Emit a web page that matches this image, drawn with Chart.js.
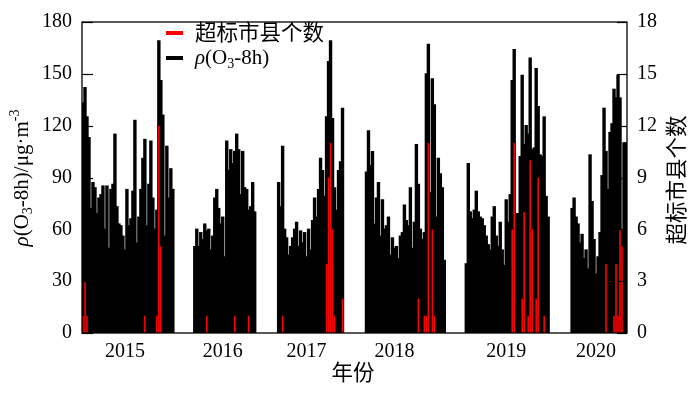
<!DOCTYPE html>
<html><head><meta charset="utf-8">
<script src="https://cdn.jsdelivr.net/npm/chart.js@4"></script>
<style>html,body{margin:0;padding:0;background:#fff;}</style>
</head><body>
<canvas id="c" width="700" height="393"></canvas>
<script>
const yearLabels = ['2015','2016','2017','2018','2019','2020'];
const yearTickIdx = [21, 70, 112, 156, 212, 257];
const o3_2015 = [133,142,125,113,72,87,84,69,78,80,85,60,85,49,83,86,115,73,63,62,56,48,83,62,66,82,123,52,67,83,101,112,62,86,111,78,60,71,169,146,126,56,108,78,95,83];
const o3_2016 = [50,60,50,58,54,63,59,60,48,56,78,83,72,63,67,44,111,94,106,98,105,115,106,80,105,84,83,71,73,87,70];
const o3_2017 = [87,73,108,60,55,45,50,55,60,64,50,59,52,58,44,60,48,65,78,67,83,101,94,79,125,157,169,124,84,71,94,99,130];
const o3_2018 = [93,117,97,105,63,78,87,56,77,60,62,67,45,55,49,50,43,56,58,74,65,62,84,49,64,109,86,60,54,58,150,167,81,147,132,67,101,92,84,42];
const o3_2019 = [40,98,70,66,71,82,70,67,66,62,56,51,48,67,73,56,50,64,48,39,77,64,80,146,164,69,69,102,149,109,120,115,159,106,107,153,131,103,102,125,79,67];
const o3_2020 = [72,78,67,63,52,57,43,48,37,103,76,54,34,44,58,91,130,105,83,116,121,141,136,149,136,59,110,110];
const gapDays = [10, 11, 11, 10, 11];
const exceedDay   = [0,1,2,31,37,38,39, 62,76,83, 100,122,123,124,125,126,130, 168,171,172,173,175,176, 215,216,220,221,223,224,225,227,228,231, 262,266,267,268,269,270];
const exceedCount = [1,3,1,1,1,12,5, 1,1,1, 1,4,9,11,6,1,2, 2,1,1,11,6,1, 6,11,2,7,1,10,6,2,9,1, 4,1,4,1,6,5];

// ---- build series ----
const o3 = [];
[o3_2015,o3_2016,o3_2017,o3_2018,o3_2019,o3_2020].forEach((s,k)=>{
  s.forEach(v=>o3.push(v));
  if (k < gapDays.length) for (let j=0;j<gapDays[k];j++) o3.push(null);
});
const labels = o3.map((_,i)=>i);
const exceed = o3.map(()=>null);
exceedDay.forEach((d,k)=>{ exceed[d] = exceedCount[k]; });

const SERIF = '"Liberation Serif", "Times New Roman", serif';
const CJK = '"Liberation Serif", "Noto Sans CJK SC", serif';

function drawRich(ctx, x, y, parts){
  let cx = x;
  parts.forEach(p=>{
    ctx.font = p.f;
    ctx.fillText(p.t, cx, y + (p.dy||0));
    cx += ctx.measureText(p.t).width;
  });
  return cx - x;
}
function richWidth(ctx, parts){
  let w=0; parts.forEach(p=>{ctx.font=p.f; w+=ctx.measureText(p.t).width;}); return w;
}

const deco = {
  id:'deco',
  afterDatasetsDraw(chart){
    const {ctx, chartArea:a, scales} = chart;
    ctx.save();
    ctx.strokeStyle = '#000'; ctx.lineWidth = 1.3;
    ctx.strokeRect(a.left, a.top, a.right-a.left, a.bottom-a.top);
    ctx.lineWidth = 1.2;
    scales.y.ticks.forEach(t=>{
      const y = Math.round(scales.y.getPixelForValue(t.value))+0.5;
      ctx.beginPath(); ctx.moveTo(a.left,y); ctx.lineTo(a.left+11,y); ctx.stroke();
    });
    scales.y1.ticks.forEach(t=>{
      const y = Math.round(scales.y1.getPixelForValue(t.value))+0.5;
      ctx.beginPath(); ctx.moveTo(a.right,y); ctx.lineTo(a.right-10,y); ctx.stroke();
    });
    // legend
    ctx.fillStyle = '#000';
    ctx.lineWidth = 4;
    ctx.strokeStyle = '#ff0000';
    ctx.beginPath(); ctx.moveTo(166,33); ctx.lineTo(183,33); ctx.stroke();
    ctx.strokeStyle = '#000';
    ctx.beginPath(); ctx.moveTo(166,58); ctx.lineTo(183,58); ctx.stroke();
    ctx.textBaseline = 'middle'; ctx.textAlign = 'left';
    ctx.font = '21.5px ' + CJK;
    ctx.fillText('超标市县个数', 195, 34);
    ctx.textBaseline = 'alphabetic';
    drawRich(ctx, 195, 64, [
      {t:'ρ', f:'italic 21px '+SERIF},
      {t:'(O', f:'21px '+SERIF},
      {t:'3', f:'14px '+SERIF, dy:4},
      {t:'-8h)', f:'21px '+SERIF}
    ]);
    // left axis title (rotated)
    const lparts = [
      {t:'ρ', f:'italic 21px '+SERIF},
      {t:'(O', f:'21px '+SERIF},
      {t:'3', f:'14px '+SERIF, dy:4},
      {t:'-8h)/μg·m', f:'21px '+SERIF},
      {t:'-3', f:'14px '+SERIF, dy:-9}
    ];
    ctx.save();
    ctx.translate(28, 178);
    ctx.rotate(-Math.PI/2);
    const lw = richWidth(ctx, lparts);
    drawRich(ctx, -lw/2, 0, lparts);
    ctx.restore();
    // right axis title
    ctx.save();
    ctx.translate(678, 180);
    ctx.rotate(-Math.PI/2);
    ctx.textAlign = 'center'; ctx.textBaseline = 'middle';
    ctx.font = '21.5px ' + CJK;
    ctx.fillText('超标市县个数', 0, 0);
    ctx.restore();
    // x axis title
    ctx.textAlign = 'center'; ctx.textBaseline = 'middle';
    ctx.font = '21.5px ' + CJK;
    ctx.fillText('年份', 353, 374);
    ctx.restore();
  }
};

const tickFont = {family: SERIF, size: 20};
new Chart(document.getElementById('c').getContext('2d'), {
  type: 'bar',
  data: {
    labels,
    datasets: [
      {label:'超标市县个数', data:exceed, yAxisID:'y1', backgroundColor:'#ff0000', order:0, grouped:false,
       barPercentage:0.8, categoryPercentage:1, borderWidth:0, inflateAmount:0},
      {label:'ρ(O3-8h)', data:o3, yAxisID:'y', backgroundColor:'#000000', order:1, grouped:false,
       barPercentage:1, categoryPercentage:1, borderWidth:0, inflateAmount:0.7}
    ]
  },
  options: {
    responsive:false, animation:false, devicePixelRatio:1,
    layout:{padding:{top:18,left:0,right:0,bottom:0}},
    plugins:{legend:{display:false}, tooltip:{enabled:false}},
    scales:{
      x:{
        grid:{display:false, drawTicks:false}, border:{display:false},
        ticks:{autoSkip:false, maxRotation:0, minRotation:0, padding:7, color:'#000', font:tickFont,
          callback:(v,i)=>{ const k = yearTickIdx.indexOf(i); return k>=0 ? yearLabels[k] : ''; }},
        afterFit:s=>{ s.height = 60; }
      },
      y:{
        position:'left', min:0, max:180,
        grid:{display:false, drawTicks:false}, border:{display:false},
        ticks:{stepSize:30, padding:10, color:'#000', font:tickFont},
        afterFit:s=>{ s.width = 82; }
      },
      y1:{
        position:'right', min:0, max:18,
        grid:{display:false, drawTicks:false}, border:{display:false},
        ticks:{stepSize:3, padding:10, color:'#000', font:tickFont},
        afterFit:s=>{ s.width = 73; }
      }
    }
  },
  plugins:[deco]
});
</script>
</body></html>
